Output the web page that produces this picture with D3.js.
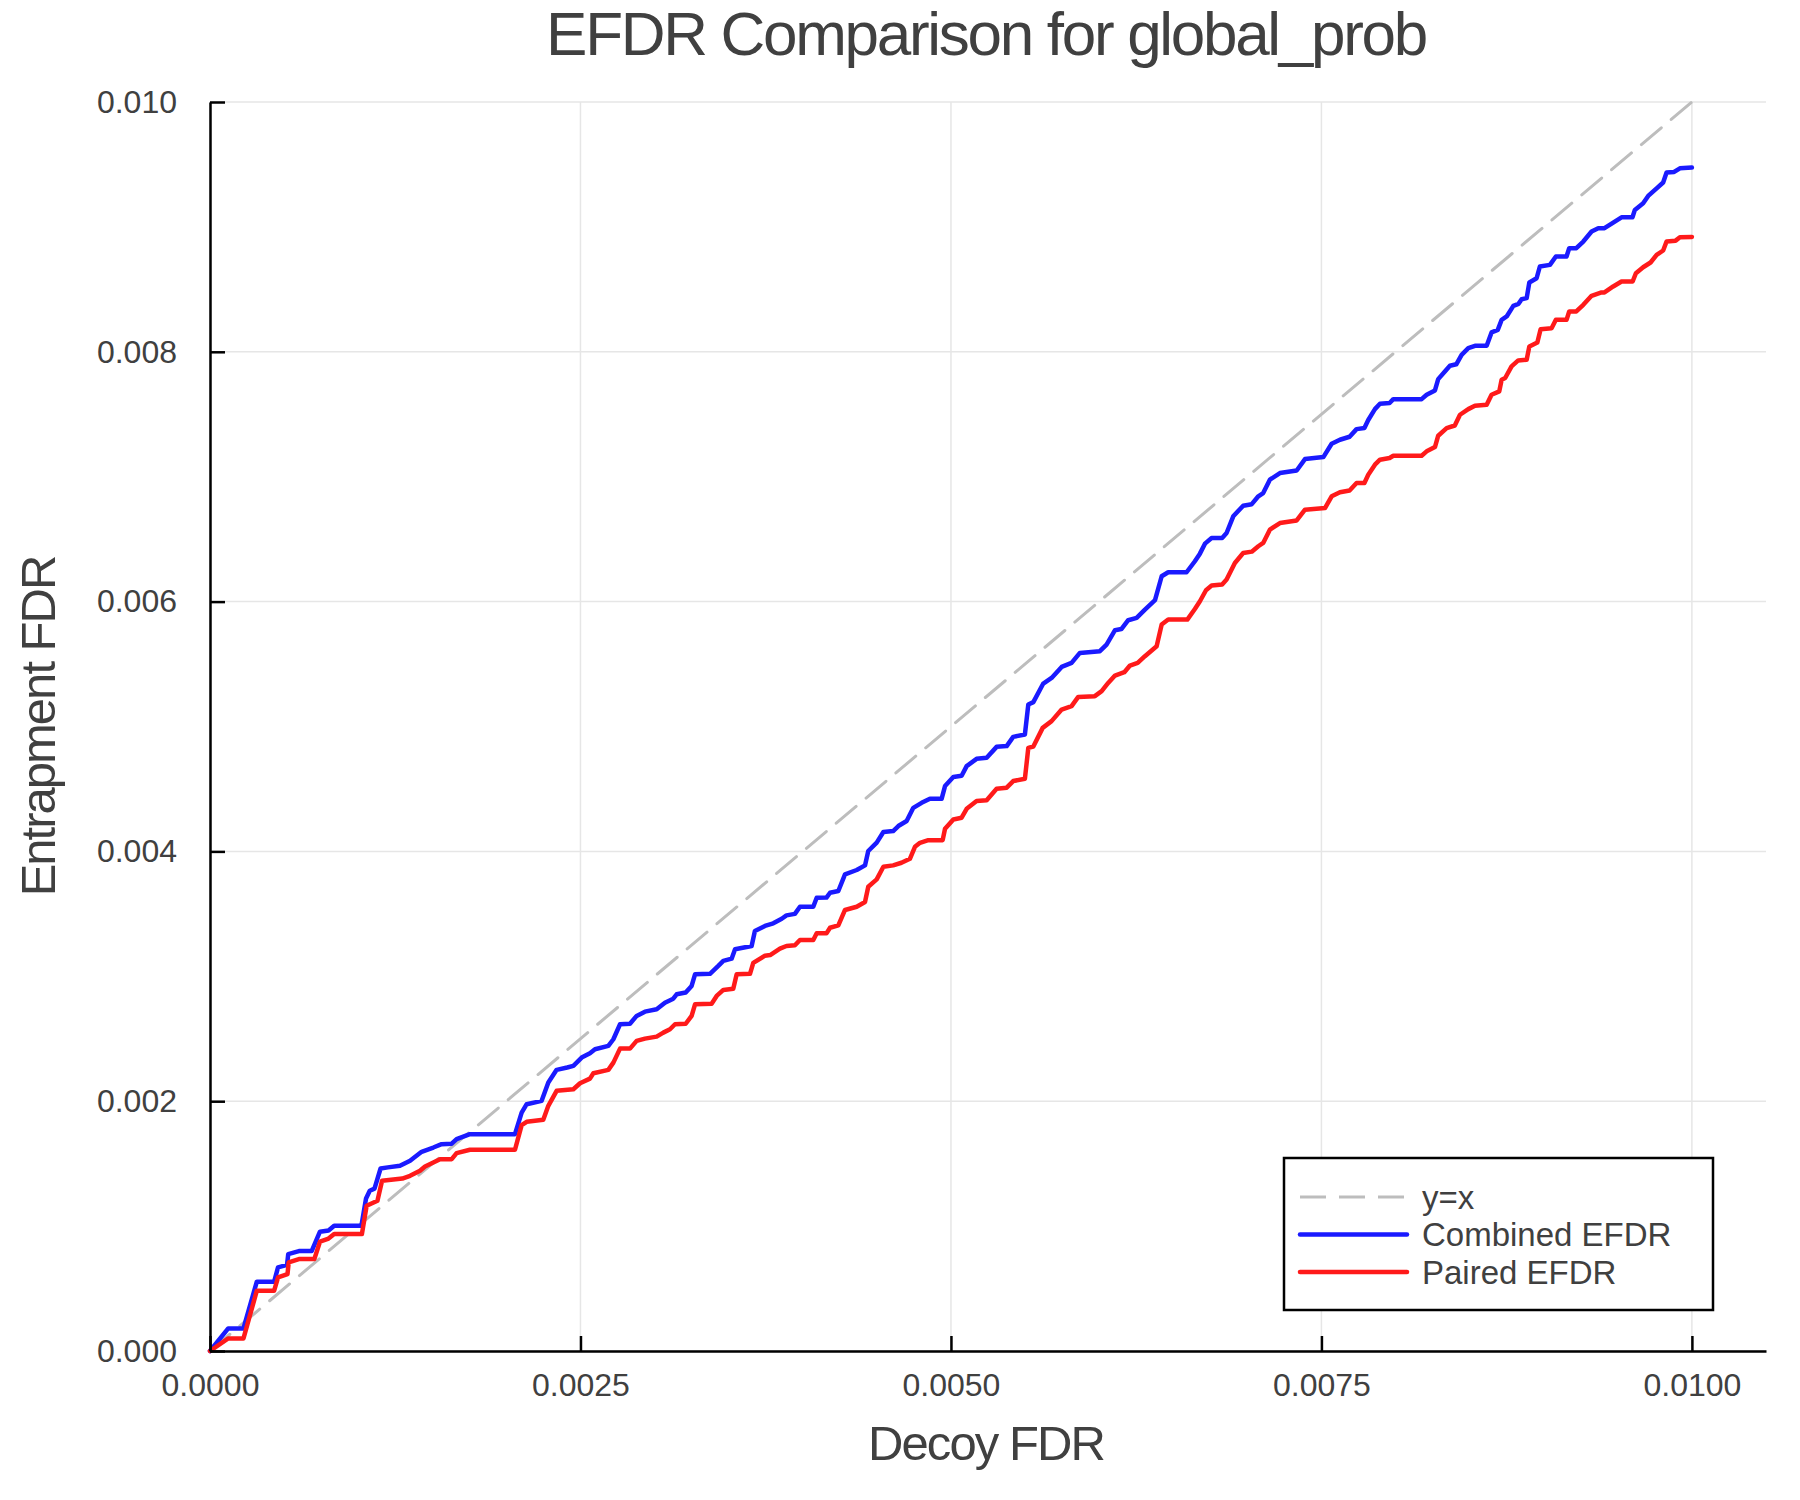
<!DOCTYPE html>
<html>
<head>
<meta charset="utf-8">
<script src="https://cdn.jsdelivr.net/npm/d3@7"></script>
<style>
  body { margin: 0; background: #fff; }
  text { font-family: "Liberation Sans", Arial, Helvetica, sans-serif; fill: #404040; }
</style>
</head>
<body>
<div id="root"></div>
<script>
const width = 1800;
const height = 1500;

// values, in units of 0.001 (decoy FDR, entrapment FDR)
const combinedX = [0, 0.123, 0.226, 0.316, 0.433, 0.459, 0.52, 0.528, 0.60, 0.686, 0.742, 0.80, 0.838, 1.022, 1.053, 1.078, 1.11, 1.151, 1.20, 1.282,
  1.35, 1.428, 1.507, 1.563, 1.631, 1.664, 1.754, 2.058, 2.103, 2.137, 2.238, 2.283, 2.339, 2.41, 2.452, 2.508, 2.564, 2.598, 2.688, 2.722,
  2.767, 2.834, 2.879, 2.935, 3.014, 3.07, 3.126, 3.149, 3.21, 3.25, 3.273, 3.374, 3.43, 3.464, 3.52, 3.543, 3.655, 3.677, 3.745, 3.801,
  3.858, 3.89, 3.947, 3.981, 4.071, 4.094, 4.16, 4.184, 4.24, 4.285, 4.364, 4.42, 4.442, 4.499, 4.544, 4.61, 4.645, 4.701, 4.746, 4.802,
  4.858, 4.937, 4.96, 5.016, 5.072, 5.106, 5.173, 5.241, 5.308, 5.376, 5.42, 5.499, 5.522, 5.556, 5.623, 5.679, 5.747, 5.814, 5.870, 6.005,
  6.05, 6.107, 6.15, 6.196, 6.253, 6.309, 6.377, 6.422, 6.466, 6.59, 6.646, 6.68, 6.714, 6.759, 6.83, 6.86, 6.905, 6.972, 7.03, 7.074,
  7.107, 7.152, 7.22, 7.333, 7.389, 7.513, 7.569, 7.625, 7.69, 7.737, 7.79, 7.816, 7.861, 7.895, 7.96, 7.985, 8.176, 8.21, 8.266, 8.288,
  8.333, 8.367, 8.41, 8.446, 8.491, 8.536, 8.615, 8.648, 8.69, 8.716, 8.75, 8.795, 8.83, 8.851, 8.885, 8.903, 8.952, 8.974, 9.042, 9.082,
  9.154, 9.172, 9.22, 9.267, 9.323, 9.368, 9.41, 9.469, 9.525, 9.599, 9.615, 9.671, 9.705, 9.762, 9.806, 9.829, 9.88, 9.919, 10.0];
const combinedY = [0, 0.181, 0.181, 0.555, 0.555, 0.67, 0.69, 0.776, 0.80, 0.80, 0.955, 0.965, 1.003, 1.003, 1.221, 1.283, 1.30, 1.461, 1.47, 1.483,
  1.523, 1.595, 1.629, 1.656, 1.66, 1.696, 1.736, 1.736, 1.909, 1.976, 2.003, 2.149, 2.251, 2.27, 2.283, 2.349, 2.384, 2.416, 2.443, 2.496,
  2.616, 2.62, 2.683, 2.717, 2.736, 2.789, 2.821, 2.856, 2.87, 2.923, 3.016, 3.02, 3.083, 3.123, 3.141, 3.216, 3.243, 3.363, 3.403, 3.424,
  3.461, 3.488, 3.50, 3.557, 3.557, 3.629, 3.63, 3.669, 3.683, 3.816, 3.851, 3.888, 4.003, 4.07, 4.155, 4.163, 4.203, 4.243, 4.349, 4.389,
  4.421, 4.421, 4.523, 4.595, 4.605, 4.683, 4.741, 4.75, 4.837, 4.843, 4.917, 4.936, 5.176, 5.195, 5.344, 5.389, 5.477, 5.509, 5.589, 5.603,
  5.656, 5.771, 5.78, 5.851, 5.87, 5.936, 6.011, 6.203, 6.235, 6.235, 6.323, 6.384, 6.464, 6.509, 6.51, 6.549, 6.683, 6.768, 6.78, 6.843,
  6.869, 6.976, 7.029, 7.05, 7.141, 7.157, 7.264, 7.296, 7.32, 7.381, 7.39, 7.454, 7.541, 7.584, 7.59, 7.621, 7.621, 7.656, 7.691, 7.781,
  7.843, 7.888, 7.90, 7.976, 8.029, 8.048, 8.048, 8.155, 8.176, 8.256, 8.283, 8.368, 8.384, 8.421, 8.43, 8.555, 8.589, 8.683, 8.696, 8.763,
  8.763, 8.829, 8.83, 8.883, 8.963, 8.989, 8.99, 9.035, 9.077, 9.077, 9.136, 9.189, 9.248, 9.309, 9.355, 9.435, 9.44, 9.469, 9.475];

const pairedX = [0, 0.123, 0.226, 0.316, 0.433, 0.459, 0.523, 0.531, 0.60, 0.704, 0.742, 0.80, 0.838, 1.025, 1.057, 1.13, 1.161, 1.298, 1.35, 1.417,
  1.451, 1.507, 1.552, 1.631, 1.664, 1.754, 2.058, 2.103, 2.137, 2.249, 2.283, 2.339, 2.452, 2.497, 2.564, 2.587, 2.688, 2.722, 2.767, 2.834,
  2.879, 2.935, 3.014, 3.059, 3.104, 3.138, 3.21, 3.25, 3.273, 3.385, 3.419, 3.464, 3.531, 3.554, 3.644, 3.666, 3.745, 3.78, 3.846, 3.89,
  3.947, 3.981, 4.071, 4.094, 4.16, 4.184, 4.24, 4.285, 4.364, 4.42, 4.442, 4.499, 4.544, 4.61, 4.666, 4.723, 4.757, 4.791, 4.847, 4.944,
  4.96, 5.016, 5.072, 5.106, 5.173, 5.241, 5.308, 5.376, 5.42, 5.499, 5.522, 5.556, 5.619, 5.679, 5.747, 5.814, 5.859, 5.971, 6.017, 6.061,
  6.107, 6.17, 6.208, 6.26, 6.309, 6.388, 6.422, 6.466, 6.595, 6.646, 6.68, 6.721, 6.759, 6.83, 6.86, 6.916, 6.972, 7.03, 7.074, 7.107,
  7.152, 7.22, 7.333, 7.389, 7.524, 7.569, 7.625, 7.69, 7.737, 7.79, 7.816, 7.861, 7.895, 7.96, 7.985, 8.176, 8.21, 8.266, 8.288, 8.345,
  8.40, 8.435, 8.491, 8.536, 8.615, 8.648, 8.70, 8.716, 8.74, 8.783, 8.828, 8.885, 8.903, 8.957, 8.979, 9.053, 9.082, 9.154, 9.172, 9.22,
  9.267, 9.323, 9.39, 9.41, 9.469, 9.525, 9.60, 9.622, 9.671, 9.721, 9.762, 9.806, 9.829, 9.89, 9.919, 10.0];
const pairedY = [0, 0.101, 0.101, 0.483, 0.483, 0.589, 0.616, 0.709, 0.736, 0.736, 0.875, 0.90, 0.936, 0.936, 1.163, 1.203, 1.363, 1.381, 1.403, 1.443,
  1.477, 1.509, 1.536, 1.536, 1.584, 1.611, 1.611, 1.808, 1.835, 1.851, 1.963, 2.083, 2.096, 2.144, 2.181, 2.224, 2.251, 2.309, 2.421, 2.421,
  2.483, 2.501, 2.517, 2.549, 2.576, 2.616, 2.62, 2.683, 2.776, 2.781, 2.843, 2.891, 2.901, 3.016, 3.02, 3.107, 3.165, 3.17, 3.221, 3.243,
  3.248, 3.291, 3.291, 3.344, 3.344, 3.389, 3.408, 3.531, 3.557, 3.595, 3.717, 3.776, 3.877, 3.888, 3.909, 3.941, 4.037, 4.069, 4.09, 4.09,
  4.181, 4.256, 4.27, 4.341, 4.403, 4.41, 4.501, 4.51, 4.563, 4.581, 4.829, 4.84, 4.989, 5.043, 5.136, 5.163, 5.237, 5.243, 5.283, 5.349,
  5.408, 5.435, 5.488, 5.509, 5.563, 5.643, 5.816, 5.856, 5.856, 5.941, 6.003, 6.091, 6.128, 6.136, 6.176, 6.309, 6.389, 6.40, 6.443, 6.47,
  6.576, 6.629, 6.65, 6.736, 6.749, 6.843, 6.875, 6.89, 6.949, 6.95, 7.016, 7.096, 7.136, 7.15, 7.168, 7.168, 7.203, 7.237, 7.328, 7.389,
  7.41, 7.496, 7.541, 7.568, 7.576, 7.656, 7.683, 7.776, 7.79, 7.883, 7.931, 7.936, 8.043, 8.075, 8.181, 8.189, 8.256, 8.256, 8.323, 8.323,
  8.376, 8.448, 8.475, 8.475, 8.523, 8.563, 8.563, 8.629, 8.677, 8.715, 8.776, 8.811, 8.883, 8.89, 8.917, 8.92];

const diagonal = [0, 0.01];
const xTicks = [0, 0.0025, 0.005, 0.0075, 0.01];
const yTicks = [0, 0.002, 0.004, 0.006, 0.008, 0.01];
const legendLabels = ['y=x', 'Combined EFDR', 'Paired EFDR'];

const toPoints = (xs, ys) => xs.map((x, i) => [x / 1000, ys[i] / 1000]);

const series = [
    {name: legendLabels[0], points: diagonal.map(d => [d, d]), color: '#bdbdbd', width: 3, dash: '26,13'},
    {name: legendLabels[1], points: toPoints(combinedX, combinedY), color: '#1a1aff', width: 4.5, dash: null},
    {name: legendLabels[2], points: toPoints(pairedX, pairedY), color: '#ff1a1a', width: 4.5, dash: null}
];

const margin = {left: 210, right: 34, top: 102, bottom: 149};

const x = d3.scaleLinear()
    .domain([0, 0.0105])
    .range([margin.left, width - margin.right]);
const y = d3.scaleLinear()
    .domain([0, 0.01])
    .range([height - margin.bottom, margin.top]);

const svg = d3.select('#root')
    .append('svg')
    .attr('width', width)
    .attr('height', height);

svg.append('rect')
    .attr('width', width)
    .attr('height', height)
    .attr('fill', '#fff');

// grid
svg.append('g')
    .selectAll('line')
    .data(xTicks)
    .join('line')
    .attr('x1', d => x(d)).attr('x2', d => x(d))
    .attr('y1', y(0)).attr('y2', margin.top)
    .attr('stroke', '#e6e6e6')
    .attr('stroke-width', 1.5);
svg.append('g')
    .selectAll('line')
    .data(yTicks)
    .join('line')
    .attr('x1', margin.left).attr('x2', width - margin.right)
    .attr('y1', d => y(d)).attr('y2', d => y(d))
    .attr('stroke', '#e6e6e6')
    .attr('stroke-width', 1.5);

// lines
const line = d3.line()
    .x(d => x(d[0]))
    .y(d => y(d[1]));

svg.append('g')
    .selectAll('path')
    .data(series)
    .join('path')
    .attr('d', d => line(d.points))
    .attr('fill', 'none')
    .attr('stroke', d => d.color)
    .attr('stroke-width', d => d.width)
    .attr('stroke-dasharray', d => d.dash)
    .attr('stroke-linejoin', 'round')
    .attr('stroke-linecap', 'round');

// axes
const xAxis = svg.append('g')
    .attr('transform', `translate(0,${y(0)})`)
    .call(d3.axisBottom(x)
        .tickValues(xTicks)
        .tickFormat(d3.format('.4f'))
        .tickSizeInner(-15)
        .tickSizeOuter(0)
        .tickPadding(22));

const yAxis = svg.append('g')
    .attr('transform', `translate(${margin.left},0)`)
    .call(d3.axisLeft(y)
        .tickValues(yTicks)
        .tickFormat(d3.format('.3f'))
        .tickSizeInner(-15)
        .tickSizeOuter(0)
        .tickPadding(33));

[xAxis, yAxis].forEach(g => {
    g.select('.domain').attr('stroke', '#000').attr('stroke-width', 2.5);
    g.selectAll('.tick line').attr('stroke', '#000').attr('stroke-width', 2.5);
    g.selectAll('.tick text')
        .attr('fill', '#404040')
        .style('font-size', '32px')
        .style('font-family', '"Liberation Sans", Arial, sans-serif');
});

// titles
svg.append('text')
    .attr('x', 986)
    .attr('y', 55)
    .attr('text-anchor', 'middle')
    .style('font-size', '62px')
    .style('letter-spacing', '-2.3px')
    .text('EFDR Comparison for global_prob');

svg.append('text')
    .attr('x', 986)
    .attr('y', 1460)
    .attr('text-anchor', 'middle')
    .style('font-size', '49px')
    .style('letter-spacing', '-1.9px')
    .text('Decoy FDR');

svg.append('text')
    .attr('transform', `translate(55,${(y(0) + y(0.01)) / 2}) rotate(-90)`)
    .attr('text-anchor', 'middle')
    .style('font-size', '49px')
    .style('letter-spacing', '-2px')
    .text('Entrapment FDR');

// legend
const legend = svg.append('g');
legend.append('rect')
    .attr('x', 1284)
    .attr('y', 1158)
    .attr('width', 429)
    .attr('height', 152)
    .attr('fill', '#fff')
    .attr('stroke', '#000')
    .attr('stroke-width', 2.5);

const item = legend.selectAll('g.item')
    .data(series)
    .join('g')
    .attr('class', 'item')
    .attr('transform', (d, i) => `translate(1300,${1197 + i * 37.5})`);

item.append('line')
    .attr('x1', 0).attr('x2', 107)
    .attr('stroke', d => d.color)
    .attr('stroke-width', d => d.width)
    .attr('stroke-dasharray', d => d.dash)
    .attr('stroke-linecap', d => d.dash ? 'butt' : 'round');

item.append('text')
    .attr('x', 122)
    .attr('dy', '0.35em')
    .style('font-size', '33px')
    .text(d => d.name);
</script>
</body>
</html>
